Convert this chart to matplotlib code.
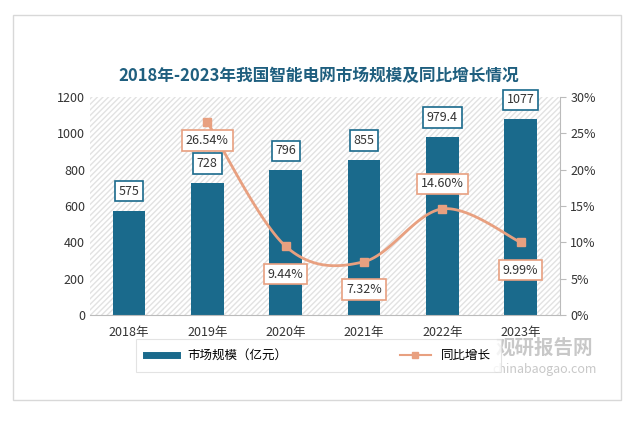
import matplotlib
matplotlib.use("Agg")
import matplotlib.pyplot as plt
import numpy as np
from matplotlib.patches import Rectangle
from matplotlib import font_manager as fm

cjk = [f.name for f in fm.fontManager.ttflist if "CJK" in f.name]
pref = [n for n in ["Noto Sans CJK SC", "Noto Sans CJK JP", "Noto Sans CJK TC", "Noto Sans CJK KR"] if n in cjk] or cjk
plt.rcParams["font.family"] = pref[:1] + ["DejaVu Sans"]

years = ["2018年", "2019年", "2020年", "2021年", "2022年", "2023年"]
market = [575, 728, 796, 855, 979.4, 1077]
market_labels = ["575", "728", "796", "855", "979.4", "1077"]
growth = [None, 26.54, 9.44, 7.32, 14.60, 9.99]

BAR = "#1a6a8c"
LINE = "#e8a080"

fig = plt.figure(figsize=(6.37, 4.26), dpi=100)
fig.patch.set_facecolor("white")
fig.patches.append(Rectangle((0.02, 0.06), 0.955, 0.905, transform=fig.transFigure,
                             fill=False, edgecolor="#d8d8d8", lw=1))
ax = fig.add_axes([0.141, 0.261, 0.738, 0.511])
ax.set_facecolor("white")
x = np.arange(len(years))
ax.add_patch(Rectangle((0, 0), 1, 1, transform=ax.transAxes, facecolor="none",
                       hatch="//////", edgecolor="#e2e2e2", lw=0, zorder=0))
ax.bar(x, market, width=0.42, color=BAR, zorder=2, label="市场规模（亿元）")
ax.set_ylim(0, 1200)
ax.set_yticks(range(0, 1201, 200))
ax.set_xlim(-0.5, 5.5)
ax.set_xticks(x, years)
for s in ["top", "right", "left"]:
    ax.spines[s].set_visible(False)
ax.spines["bottom"].set_color("#bbbbbb")
ax.tick_params(length=0, labelsize=9, colors="#333333")
ax.tick_params(axis="x", pad=8)
for xi, v, t in zip(x, market, market_labels):
    ax.annotate(t, (xi, v), xytext=(0, 14), textcoords="offset points", ha="center", va="center",
                fontsize=9, color="#333333", zorder=5,
                bbox=dict(boxstyle="square,pad=0.3", fc="white", ec=BAR, lw=1.2))

ax2 = ax.twinx()
ax2.set_ylim(0, 30)
ax2.set_yticks(range(0, 31, 5), [f"{v}%" for v in range(0, 31, 5)])
for s in ["top", "left", "bottom"]:
    ax2.spines[s].set_visible(False)
ax2.spines["right"].set_color("#bbbbbb")
ax2.tick_params(axis="y", length=4, color="#bbbbbb", labelsize=9, colors="#333333")

gx = np.array([i for i, g in enumerate(growth) if g is not None], float)
gy = np.array([g for g in growth if g is not None], float)
P = np.column_stack([gx, gy])
Pp = np.vstack([P[0], P, P[-1]])
cx, cy = [], []
for i in range(1, len(Pp) - 2):
    p0, p1, p2, p3 = Pp[i - 1], Pp[i], Pp[i + 1], Pp[i + 2]
    for t in np.linspace(0, 1, 30):
        c = 0.5 * ((2 * p1) + (-p0 + p2) * t + (2 * p0 - 5 * p1 + 4 * p2 - p3) * t**2
                   + (-p0 + 3 * p1 - 3 * p2 + p3) * t**3)
        cx.append(c[0]); cy.append(c[1])
ax2.plot(cx, cy, color=LINE, lw=2, zorder=3)
ax2.plot(gx, gy, "s", color=LINE, ms=6, zorder=4)
offs = {1: (0, -13), 2: (0, -20), 3: (0, -20), 4: (0, 18), 5: (0, -20)}
for xi, g in zip(gx, gy):
    ax2.annotate(f"{g:.2f}%", (xi, g), xytext=offs[int(xi)], textcoords="offset points",
                 ha="center", va="center", fontsize=9, color="#333333", zorder=6,
                 bbox=dict(boxstyle="square,pad=0.3", fc="white", ec=LINE, lw=1.2))

fig.text(0.5, 0.81, "2018年-2023年我国智能电网市场规模及同比增长情况", ha="center",
         fontsize=12, fontweight="bold", color="#1f5f7f")

from matplotlib.lines import Line2D
h = [Line2D([], [], color=BAR, lw=5), Line2D([], [], color=LINE, lw=1.5, marker="s", ms=5)]
leg = fig.legend(h, ["市场规模（亿元）", "同比增长"], loc="center", bbox_to_anchor=(0.5, 0.165),
                 ncol=2, frameon=True, fontsize=9, columnspacing=9, handlelength=2.5,
                 fancybox=False, edgecolor="#dddddd", borderpad=0.8)
leg.get_frame().set_linewidth(0.8)
fig.text(0.855, 0.17, "观研报告网", fontsize=14, color="#c8c8c8", fontweight="bold", ha="center")
fig.text(0.855, 0.125, "chinabaogao.com", fontsize=9, color="#c8c8c8", ha="center")

fig.savefig("out.png", dpi=100)
